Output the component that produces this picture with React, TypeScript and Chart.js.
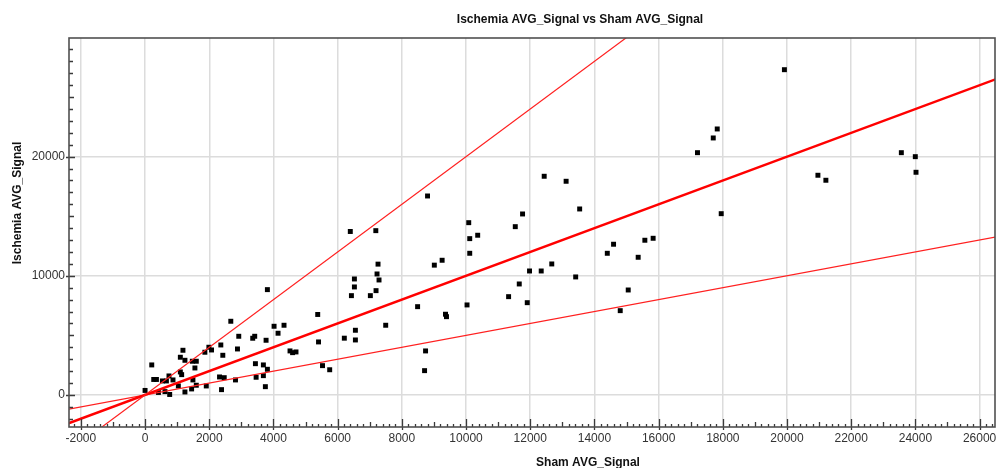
import React, { useEffect, useRef } from "react";
import { Chart, registerables } from "chart.js";

Chart.register(...registerables);

// Sham AVG_Signal (x) values
const shamSignal = [
  0, 208, 270, 354, 416, 540, 665, 620, 745, 767, 870, 1037, 1099, 1140, 1099, 1180,
  1242, 1242, 1472, 1596, 1553, 1491, 1450, 1596, 1907, 1863, 1988, 2071, 2360, 2422,
  2320, 2466, 2382, 2671, 2817, 2879, 2919, 3354, 3416, 3438, 3460, 3686, 3686, 3748,
  3770, 3811, 3811, 4019, 4143, 4329, 4516, 4596, 4702, 5379, 5404, 5528, 5752, 6208,
  6394, 6522, 6522, 6429, 6553, 6553, 7019, 7189, 7258, 7227, 7289, 7196, 7497, 8491,
  8739, 8708, 9012, 8801, 9255, 9360, 9391, 10084, 10115, 10363, 10115, 10031, 11534,
  11761, 11326, 11658, 11907, 11978, 12342, 12671, 12435, 13118, 13540, 13416, 14401,
  14596, 15053, 14804, 15363, 15571, 15829, 17211, 17950, 17702, 17826, 19919, 20963,
  21211, 23562, 23997, 24019,
];

// Ischemia AVG_Signal (y) values
const ischemiaSignal = [
  380, 2520, 1300, 1300, 210, 1175, 1175, 280, 1595, 40, 1260, 755, 1930, 1705, 3165, 3750,
  2910, 250, 2830, 2830, 2265, 1260, 505, 815, 755, 3585, 4005, 3775, 4195, 3330,
  1510, 1450, 445, 6185, 1260, 3860, 4925, 4760, 4925, 2625, 1485, 2520, 1620, 695,
  4590, 2155, 8840, 5765, 5180, 5850, 3695, 3550, 3610, 6755, 4450, 2460, 2115, 4765,
  13720, 9735, 9065, 8335, 5430, 4615, 8335, 13790, 10980, 10155, 9650, 8755, 5850, 7410,
  3695, 2040, 10895, 16700, 11305, 6775, 6570, 14460, 13120, 13405, 11890, 7555, 14125,
  15190, 8250, 9315, 7745, 10405, 10405, 10995, 18355, 17935, 15610, 9905, 11890,
  12650, 8810, 7075, 11555, 12985, 13150, 20335, 15215, 21570, 22325, 27300, 18440,
  18020, 20335, 20000, 18690,
];

// Reference lines (endpoints): y = 0.5x, y = x, y = 2x
const lowerLineX = [-3000, 30000];
const lowerLineY = [-1500, 15000];
const midLineX = [-3000, 30000];
const midLineY = [-3000, 30000];
const upperLineX = [-3000, 16000];
const upperLineY = [-6000, 32000];

const xTickValues = [-2000, 0, 2000, 4000, 6000, 8000, 10000, 12000, 14000, 16000, 18000, 20000, 22000, 24000, 26000];
const yTickValues = [0, 10000, 20000];

const X_MIN = -2370;
const X_MAX = 26480;
const Y_MIN = -2690;
const Y_MAX = 29960;

const chartTitle = "Ischemia AVG_Signal vs Sham AVG_Signal";
const xTitle = "Sham AVG_Signal";
const yTitle = "Ischemia AVG_Signal";

const FONT = "'Liberation Sans', Arial, sans-serif";

const framePlugin = {
  id: "frameAndTicks",
  afterDatasetsDraw(chart: any) {
    const { ctx, chartArea } = chart;
    const xs = chart.scales.x;
    const ys = chart.scales.y;
    ctx.save();
    // minor / major tick marks pointing inward
    ctx.strokeStyle = "#3a3a3a";
    ctx.lineWidth = 1.3;
    ctx.beginPath();
    for (let v = -2200; v <= X_MAX; v += 200) {
      if (v < X_MIN) continue;
      const px = Math.round(xs.getPixelForValue(v)) + 0.5;
      let up = 3;
      let down = 0;
      if (v % 2000 === 0) {
        up = 8;
        down = 3;
      } else if (v % 1000 === 0) {
        up = 5;
      }
      ctx.moveTo(px, chartArea.bottom - up);
      ctx.lineTo(px, chartArea.bottom + down);
    }
    for (let v = -2000; v <= Y_MAX; v += 1000) {
      const py = Math.round(ys.getPixelForValue(v)) + 0.5;
      let right = 4;
      let left = 0;
      if (v % 10000 === 0) {
        right = 6;
        left = 3;
      } else if (v % 5000 === 0) {
        right = 5;
      }
      ctx.moveTo(chartArea.left - left, py);
      ctx.lineTo(chartArea.left + right, py);
    }
    ctx.stroke();
    // frame
    ctx.strokeStyle = "#505050";
    ctx.lineWidth = 1.6;
    ctx.strokeRect(chartArea.left, chartArea.top, chartArea.right - chartArea.left, chartArea.bottom - chartArea.top);
    ctx.restore();
  },
  afterDraw(chart: any) {
    const { ctx } = chart;
    ctx.save();
    ctx.fillStyle = "#111111";
    ctx.font = `bold 12px ${FONT}`;
    ctx.textAlign = "center";
    ctx.textBaseline = "alphabetic";
    ctx.fillText(chartTitle, 580, 22.5);
    ctx.fillText(xTitle, 588, 466);
    ctx.translate(20.5, 203);
    ctx.rotate(-Math.PI / 2);
    ctx.fillText(yTitle, 0, 0);
    ctx.restore();
  },
};

export default function App() {
  const canvasRef = useRef<HTMLCanvasElement | null>(null);

  useEffect(() => {
    if (!canvasRef.current) return;
    const scatter = shamSignal.map((x, i) => ({ x, y: ischemiaSignal[i] }));
    const mk = (xs: number[], ys: number[]) => xs.map((x, i) => ({ x, y: ys[i] }));
    const chart = new Chart(canvasRef.current, {
      type: "scatter",
      data: {
        datasets: [
          {
            type: "line",
            label: "y = 2x",
            data: mk(upperLineX, upperLineY),
            borderColor: "#ff2020",
            borderWidth: 1.2,
            pointRadius: 0,
            showLine: true,
            clip: 0,
            order: 0,
          } as any,
          {
            type: "line",
            label: "y = x",
            data: mk(midLineX, midLineY),
            borderColor: "#ff0000",
            borderWidth: 2.5,
            pointRadius: 0,
            showLine: true,
            clip: 0,
            order: 0,
          } as any,
          {
            type: "line",
            label: "y = 0.5x",
            data: mk(lowerLineX, lowerLineY),
            borderColor: "#ff2020",
            borderWidth: 1.2,
            pointRadius: 0,
            showLine: true,
            clip: 0,
            order: 0,
          } as any,
          {
            label: "Ischemia vs Sham",
            data: scatter,
            pointStyle: "rect",
            pointRadius: 3.5,
            pointBackgroundColor: "#000000",
            pointBorderWidth: 0,
            backgroundColor: "#000000",
            borderColor: "#000000",
            order: 1,
          } as any,
        ],
      },
      options: {
        responsive: false,
        animation: false,
        devicePixelRatio: 1,
        layout: { padding: { top: 38, right: 1, left: 0, bottom: 0 } },
        plugins: {
          legend: { display: false },
          title: { display: false },
          tooltip: { enabled: false },
        },
        scales: {
          x: {
            type: "linear",
            min: X_MIN,
            max: X_MAX,
            afterBuildTicks: (scale: any) => {
              scale.ticks = xTickValues.map((v) => ({ value: v }));
            },
            afterFit: (scale: any) => {
              scale.height = 41;
              scale.paddingLeft = 0;
              scale.paddingRight = 0;
            },
            grid: { color: "#dcdcdc", lineWidth: 1.5, drawTicks: false },
            border: { display: false },
            ticks: {
              padding: 4,
              color: "#333333",
              font: { family: FONT, size: 12 },
              maxRotation: 0,
              autoSkip: false,
              callback: (v: any) => String(v),
            },
          },
          y: {
            type: "linear",
            min: Y_MIN,
            max: Y_MAX,
            afterBuildTicks: (scale: any) => {
              scale.ticks = yTickValues.map((v) => ({ value: v }));
            },
            afterFit: (scale: any) => {
              scale.width = 69;
              scale.paddingTop = 0;
              scale.paddingBottom = 0;
            },
            grid: { color: "#dcdcdc", lineWidth: 1.5, drawTicks: false },
            border: { display: false },
            ticks: {
              padding: 4,
              color: "#333333",
              font: { family: FONT, size: 12 },
              autoSkip: false,
              callback: (v: any) => String(v),
            },
          },
        },
      },
      plugins: [framePlugin],
    });
    return () => chart.destroy();
  }, []);

  return (
    <div style={{ position: "absolute", left: 0, top: 0, width: 999, height: 468, overflow: "hidden", background: "#ffffff" }}>
      <canvas ref={canvasRef} width={999} height={468} style={{ display: "block" }} />
    </div>
  );
}
